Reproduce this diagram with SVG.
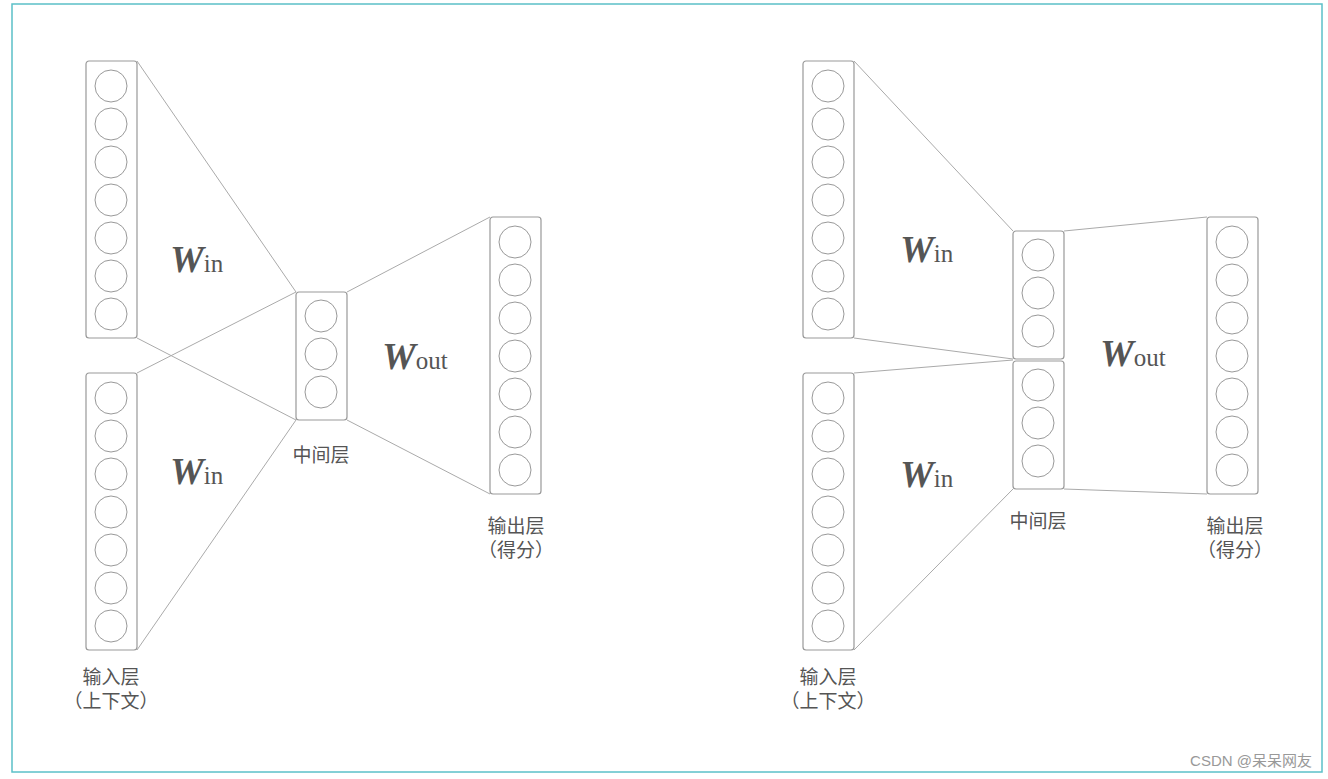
<svg xmlns="http://www.w3.org/2000/svg" width="1328" height="779" viewBox="0 0 1328 779">
<style>
.box{fill:#fff;stroke:#999;stroke-width:1.2}
.c{fill:none;stroke:#999;stroke-width:1}
.ln{stroke:#aaa;stroke-width:1;fill:none}
.w{font-family:"Liberation Serif",serif;font-weight:bold;font-style:italic;font-size:38px;fill:#555}
.s{font-family:"Liberation Serif",serif;font-size:25px;fill:#555;font-style:normal;font-weight:normal}
.t{font-family:"Liberation Sans","Noto Sans CJK SC",sans-serif;font-size:19px;fill:#555;text-anchor:middle}
</style>
<defs>
<g id="col7"><rect class="box" x="-25" y="0" width="51" height="277" rx="3"/>
<circle class="c" cx="0" cy="25" r="16"/><circle class="c" cx="0" cy="63" r="16"/><circle class="c" cx="0" cy="101" r="16"/><circle class="c" cx="0" cy="139" r="16"/><circle class="c" cx="0" cy="177" r="16"/><circle class="c" cx="0" cy="215" r="16"/><circle class="c" cx="0" cy="253" r="16"/></g>
<g id="col3"><rect class="box" x="-25" y="0" width="51" height="128" rx="3"/>
<circle class="c" cx="0" cy="24" r="16"/><circle class="c" cx="0" cy="62" r="16"/><circle class="c" cx="0" cy="100" r="16"/></g>
</defs>
<rect x="12" y="4" width="1310" height="768" fill="#fff" stroke="#5bc0c8" stroke-width="1.5"/>
<g id="connectors">
<line class="ln" x1="137" y1="61" x2="296" y2="292"/>
<line class="ln" x1="137" y1="338" x2="296" y2="420"/>
<line class="ln" x1="137" y1="373" x2="296" y2="292"/>
<line class="ln" x1="137" y1="650" x2="296" y2="420"/>
<line class="ln" x1="347" y1="292" x2="490" y2="217"/>
<line class="ln" x1="347" y1="420" x2="490" y2="494"/>
<line class="ln" x1="854" y1="61" x2="1013" y2="231"/>
<line class="ln" x1="854" y1="338" x2="1013" y2="359"/>
<line class="ln" x1="854" y1="373" x2="1013" y2="360"/>
<line class="ln" x1="854" y1="650" x2="1013" y2="489"/>
<line class="ln" x1="1064" y1="231" x2="1207" y2="217"/>
<line class="ln" x1="1064" y1="489" x2="1207" y2="494"/>
</g>
<g id="left-input-top"><use href="#col7" x="111" y="61"/></g>
<g id="left-input-bottom"><use href="#col7" x="111" y="373"/></g>
<g id="left-middle"><use href="#col3" x="321" y="292"/></g>
<g id="left-output"><use href="#col7" x="515" y="217"/></g>
<g id="right-input-top"><use href="#col7" x="828" y="61"/></g>
<g id="right-input-bottom"><use href="#col7" x="828" y="373"/></g>
<g id="right-middle-top"><use href="#col3" x="1038" y="231"/></g>
<g id="right-middle-bottom"><use href="#col3" x="1038" y="361"/></g>
<g id="right-output"><use href="#col7" x="1232" y="217"/></g>
<g id="labels">
<text class="w" x="170" y="272">W<tspan class="s">in</tspan></text>
<text class="w" x="170" y="484">W<tspan class="s">in</tspan></text>
<text class="w" x="382" y="369">W<tspan class="s">out</tspan></text>
<text class="w" x="900" y="262">W<tspan class="s">in</tspan></text>
<text class="w" x="900" y="487">W<tspan class="s">in</tspan></text>
<text class="w" x="1100" y="366">W<tspan class="s">out</tspan></text>
<text class="t" x="321" y="462">中间层</text>
<text class="t" x="516" y="533">输出层</text>
<text class="t" x="516" y="557">（得分）</text>
<text class="t" x="111" y="684">输入层</text>
<text class="t" x="111" y="708">（上下文）</text>
<text class="t" x="1038" y="528">中间层</text>
<text class="t" x="1235" y="533">输出层</text>
<text class="t" x="1235" y="557">（得分）</text>
<text class="t" x="828" y="684">输入层</text>
<text class="t" x="828" y="708">（上下文）</text>
<text x="1312" y="766" font-family="Liberation Sans,'Noto Sans CJK SC',sans-serif" font-size="15" fill="#999" text-anchor="end">CSDN @呆呆网友</text>
</g>
</svg>
